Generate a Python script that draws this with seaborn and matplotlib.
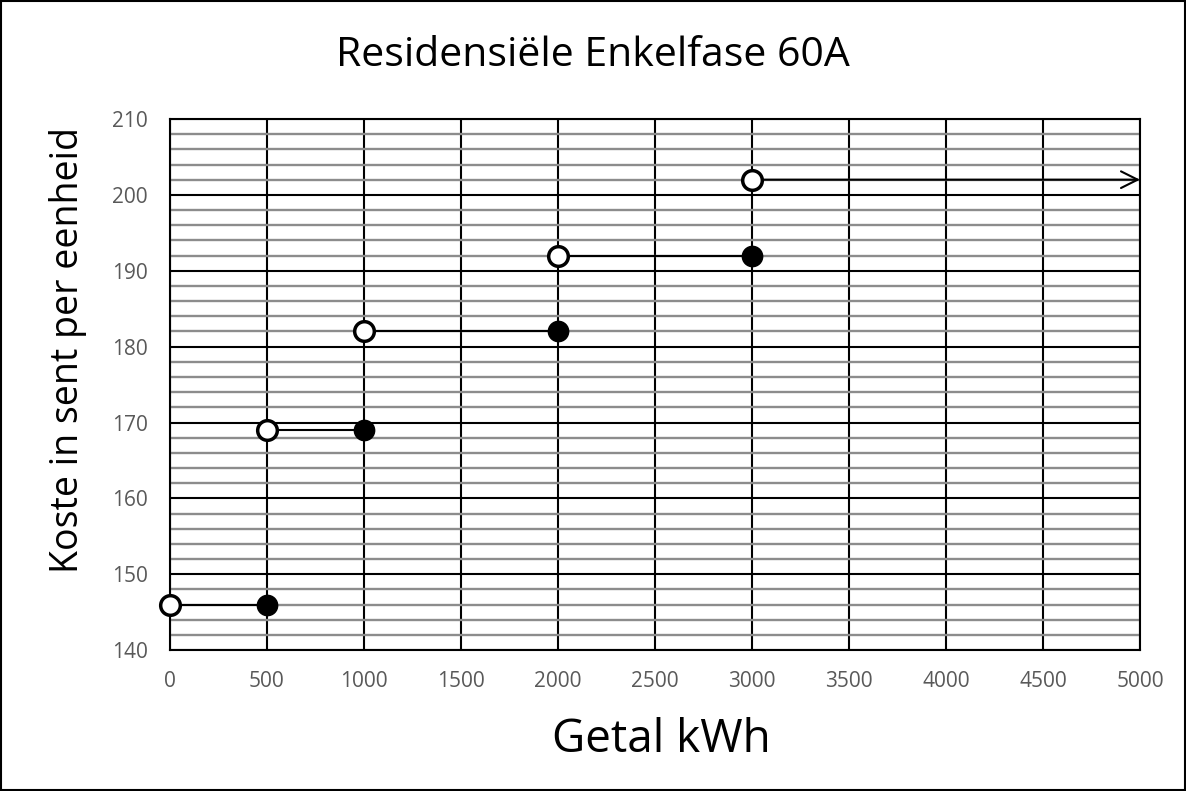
# plot.py
# Step chart of the residential single-phase 60A tariff (cents per unit vs kWh).

import pandas as pd
import matplotlib.pyplot as plt
from matplotlib.patches import Rectangle
from matplotlib.ticker import MultipleLocator
import seaborn as sns

# Tariff blocks: each block starts (open circle) and ends (closed circle)
block_start = [0, 500, 1000, 2000, 3000]
block_end = [500, 1000, 2000, 3000, 5000]
block_price = [146, 169, 182, 192, 202]

# Closed end points (the last block has an arrow instead)
closed_x = [500, 1000, 2000, 3000]
closed_y = [146, 169, 182, 192]

x_ticks = [0, 500, 1000, 1500, 2000, 2500, 3000, 3500, 4000, 4500, 5000]
y_ticks = [140, 150, 160, 170, 180, 190, 200, 210]

sns.set_style("white")
plt.rcParams['font.family'] = ['Open Sans', 'DejaVu Sans']

# Build the segment table for seaborn
rows = []
for i, (x0, x1, p) in enumerate(zip(block_start, block_end, block_price)):
    rows.append({"seg": i, "kwh": x0, "price": p})
    rows.append({"seg": i, "kwh": x1, "price": p})
segments = pd.DataFrame(rows)
opened = pd.DataFrame({"kwh": block_start, "price": block_price})
closed = pd.DataFrame({"kwh": closed_x, "price": closed_y})

fig = plt.figure(figsize=(11.86, 7.91), dpi=100)
ax = fig.add_axes([0.1433, 0.178, 0.8179, 0.6716])

# Grid: black major every 10 / 500, grey minor every 2
ax.set_xlim(0, 5000)
ax.set_ylim(140, 210)
ax.set_xticks(x_ticks)
ax.set_yticks(y_ticks)
ax.yaxis.set_minor_locator(MultipleLocator(2))
ax.grid(True, which="major", color="black", linewidth=1.5, zorder=1)
ax.grid(True, which="minor", axis="y", color="#8c8c8c", linewidth=1.7, zorder=0)
ax.set_axisbelow(True)

# Last block is drawn as an arrow, so leave it out of the line plot
sns.lineplot(data=segments[segments["seg"] < len(block_start) - 1], x="kwh", y="price",
             units="seg", estimator=None, color="black", linewidth=1.5, ax=ax,
             zorder=3)
ax.annotate("", xy=(block_end[-1], block_price[-1]), xytext=(block_start[-1], block_price[-1]),
            arrowprops=dict(arrowstyle="->", color="black", lw=1.5, mutation_scale=30,
                            shrinkA=0, shrinkB=0),
            annotation_clip=False, zorder=3)

sns.scatterplot(data=closed, x="kwh", y="price", color="black", s=200,
                edgecolor="black", linewidth=1.5, ax=ax, zorder=4, clip_on=False)
sns.scatterplot(data=opened, x="kwh", y="price", color="white", s=200,
                edgecolor="black", linewidth=2.5, ax=ax, zorder=5, clip_on=False)

for side in ["left", "right", "top", "bottom"]:
    ax.spines[side].set_visible(True)
    ax.spines[side].set_color("black")
    ax.spines[side].set_linewidth(1.5)

ax.tick_params(axis="x", which="major", direction="out", length=5, width=1.5,
               color="black", pad=10, labelsize=15, labelcolor="#595959")
ax.tick_params(axis="y", which="both", length=0, pad=16, labelsize=15,
               labelcolor="#595959")
ax.tick_params(axis="x", which="minor", length=0)

ax.set_xlabel("Getal kWh", fontsize=33, color="black", va="center")
ax.xaxis.set_label_coords(0.507, -0.169)
ax.set_ylabel("Koste in sent per eenheid", fontsize=27, color="black", va="center")
ax.yaxis.set_label_coords(-0.105, 0.565)
fig.text(0.5, 0.930, "Residensiële Enkelfase 60A", ha="center", va="center",
         fontsize=29.5, color="black")

# Black border around the whole figure
fig.patches.append(Rectangle((0.001, 0.001), 0.998, 0.998, transform=fig.transFigure,
                             fill=False, edgecolor="black", linewidth=1.5))

fig.savefig("out.png", dpi=100)
